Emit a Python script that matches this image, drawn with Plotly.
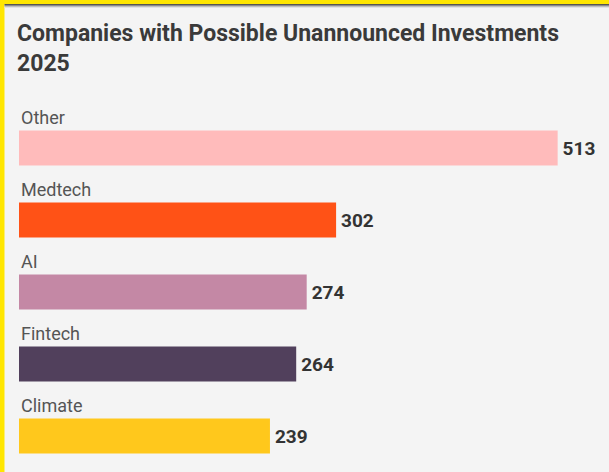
import plotly.graph_objects as go

# Sector counts, top to bottom
categories = ["Other", "Medtech", "AI", "Fintech", "Climate"]
counts = [513, 302, 274, 264, 239]
bar_colors = ["#FFBBBB", "#FF5216", "#C488A5", "#51405C", "#FFC81C"]

title_lines = ["Companies with Possible Unannounced Investments", "2025"]

W, H = 609, 472
L, R, T, B = 19, 2, 112, 0
plot_w, plot_h = W - L - R, H - T - B
x_max = plot_w / 1.05  # about 1.05 px per company


def px_x(px):
    return (px - L) / plot_w


def px_y(py):
    return (H - B - py) / plot_h


fig = go.Figure(
    go.Bar(
        y=categories,
        x=counts,
        orientation="h",
        marker=dict(color=bar_colors, line=dict(width=0)),
        width=0.485,
        text=["\u200a" + str(v) for v in counts],
        textposition="outside",
        cliponaxis=False,
        textfont=dict(family="Roboto", size=19, color="#333333", weight="bold"),
        hoverinfo="skip",
    )
)

# category names sit above each bar
annotations = [
    dict(
        x=0, y=cat, xref="x", yref="y",
        text=cat, showarrow=False,
        xanchor="left", yanchor="middle",
        yshift=31, xshift=0,
        font=dict(family="Roboto", size=18, color="#555555"),
    )
    for cat in categories
]

# chart title, two lines
annotations.append(dict(
    x=px_x(15), y=px_y(18), xref="paper", yref="paper",
    text="<br>".join(title_lines), showarrow=False,
    xanchor="left", yanchor="top", align="left",
    font=dict(family="Roboto", size=23, color="#3A3A3A", weight="bold"),
))

# yellow frame on the left and top, with a soft grey edge under the top strip
shapes = [
    dict(type="rect", xref="paper", yref="paper",
         x0=px_x(0), x1=px_x(4.5), y0=px_y(H), y1=px_y(0),
         fillcolor="#FFE600", line=dict(width=0), layer="above"),
    dict(type="rect", xref="paper", yref="paper",
         x0=px_x(0), x1=px_x(W), y0=px_y(4), y1=px_y(0),
         fillcolor="#FFE600", line=dict(width=0), layer="above"),
]
for i, c in enumerate(["#555555", "#8a8a8a", "#bdbdbd", "#e2e2e2"]):
    shapes.append(dict(type="rect", xref="paper", yref="paper",
                       x0=px_x(4.5), x1=px_x(W), y0=px_y(5 + i), y1=px_y(4 + i),
                       fillcolor=c, line=dict(width=0), layer="above"))

fig.update_layout(
    width=W, height=H,
    margin=dict(l=L, r=R, t=T, b=B, pad=0),
    paper_bgcolor="#F4F4F4",
    plot_bgcolor="#F4F4F4",
    showlegend=False,
    xaxis=dict(range=[0, x_max], visible=False, fixedrange=True),
    yaxis=dict(
        categoryorder="array", categoryarray=categories,
        range=[4.5, -0.5], visible=False, fixedrange=True,
    ),
    annotations=annotations,
    shapes=shapes,
)

fig.write_html("out.html")
